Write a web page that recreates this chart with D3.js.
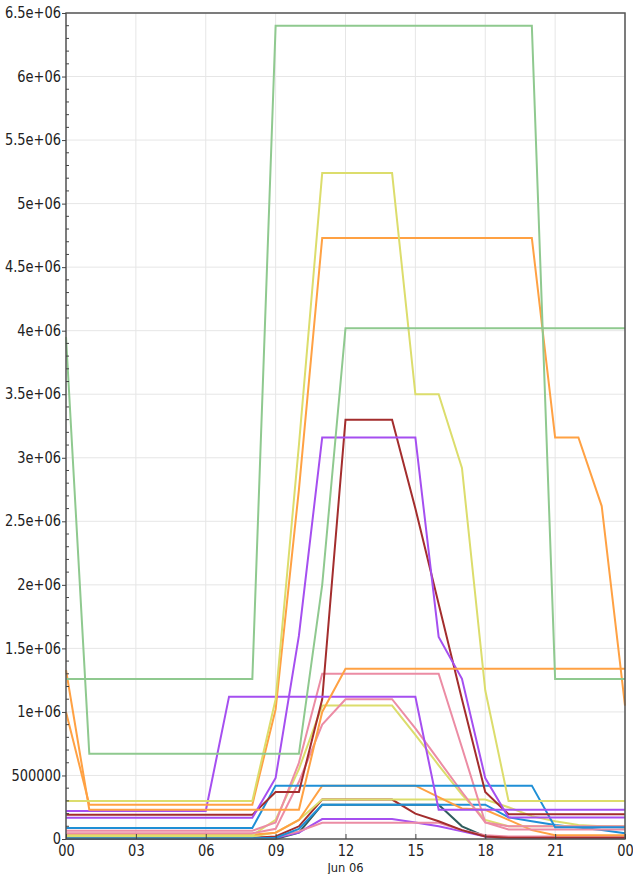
<!DOCTYPE html>
<html>
<head>
<meta charset="utf-8">
<script src="https://cdn.jsdelivr.net/npm/d3@7/dist/d3.min.js"></script>
<style>
  html, body { margin: 0; padding: 0; background: #fff; }
  svg { display: block; }
  text { font-family: "DejaVu Sans", sans-serif; fill: #222; }
</style>
</head>
<body>
<svg id="chart" width="633" height="874"></svg>
<script>
// Hourly readings for Jun 06 (hour 24 is midnight of the next day)
const hours = [0,1,2,3,4,5,6,7,8,9,10,11,12,13,14,15,16,17,18,19,20,21,22,23,24];

const greenA  = [1260000,1260000,1260000,1260000,1260000,1260000,1260000,1260000,1260000,6400000,6400000,6400000,6400000,6400000,6400000,6400000,6400000,6400000,6400000,6400000,6400000,1260000,1260000,1260000,1260000];
const greenB  = [3950000,670000,670000,670000,670000,670000,670000,670000,670000,670000,670000,2000000,4020000,4020000,4020000,4020000,4020000,4020000,4020000,4020000,4020000,4020000,4020000,4020000,4020000];
const yellowA = [300000,300000,300000,300000,300000,300000,300000,300000,300000,1100000,3100000,5240000,5240000,5240000,5240000,3500000,3500000,2920000,1170000,300000,300000,300000,300000,300000,300000];
const orangeA = [1000000,270000,270000,270000,270000,270000,270000,270000,270000,1020000,2750000,4730000,4730000,4730000,4730000,4730000,4730000,4730000,4730000,4730000,4730000,3160000,3160000,2620000,1050000];
const orangeB = [1330000,230000,230000,230000,230000,230000,230000,230000,230000,230000,230000,1000000,1340000,1340000,1340000,1340000,1340000,1340000,1340000,1340000,1340000,1340000,1340000,1340000,1340000];
const purpleA = [220000,220000,220000,220000,220000,220000,220000,1120000,1120000,1120000,1120000,1120000,1120000,1120000,1120000,1120000,230000,230000,230000,230000,230000,230000,230000,230000,230000];
const purpleB = [167000,167000,167000,167000,167000,167000,167000,167000,167000,480000,1600000,3160000,3160000,3160000,3160000,3160000,1590000,1260000,480000,170000,170000,170000,170000,170000,170000];
const redA    = [190000,190000,190000,190000,190000,190000,190000,190000,190000,370000,370000,1100000,3300000,3300000,3300000,2600000,1850000,1100000,370000,195000,195000,195000,195000,195000,195000];
const blueA   = [87000,87000,87000,87000,87000,87000,87000,87000,87000,420000,420000,420000,420000,420000,420000,420000,420000,420000,420000,420000,420000,92000,92000,92000,92000];
const pinkA   = [65000,65000,65000,65000,65000,65000,65000,65000,65000,130000,600000,1300000,1300000,1300000,1300000,1300000,1300000,720000,130000,100000,100000,100000,100000,100000,100000];
const pinkB   = [45000,45000,45000,45000,45000,45000,45000,45000,45000,80000,450000,900000,1100000,1100000,1100000,870000,620000,370000,130000,75000,75000,75000,75000,75000,75000];
const yellowB = [30000,30000,30000,30000,30000,30000,30000,30000,30000,150000,550000,1050000,1050000,1050000,1050000,820000,580000,350000,150000,100000,100000,100000,100000,100000,100000];
const orangeC = [35000,35000,35000,35000,35000,35000,35000,35000,35000,50000,150000,420000,420000,420000,420000,420000,330000,240000,230000,150000,70000,30000,30000,30000,30000];
const blueB   = [5000,5000,5000,5000,5000,5000,5000,5000,5000,10000,80000,270000,270000,270000,270000,270000,270000,270000,270000,170000,140000,110000,90000,70000,45000];
const yellowC = [20000,20000,20000,20000,20000,20000,20000,20000,20000,50000,150000,310000,310000,310000,310000,310000,310000,310000,310000,250000,180000,140000,110000,100000,90000];
const redB    = [10000,10000,10000,10000,10000,10000,10000,10000,10000,20000,100000,310000,310000,310000,310000,200000,140000,70000,20000,10000,10000,10000,10000,10000,10000];
const purpleC = [5000,5000,5000,5000,5000,5000,5000,5000,5000,10000,50000,157000,157000,157000,157000,130000,100000,60000,20000,10000,10000,10000,10000,10000,10000];
const pinkC   = [10000,10000,10000,10000,10000,10000,10000,10000,10000,15000,60000,128000,128000,128000,128000,128000,128000,70000,30000,20000,20000,20000,20000,20000,20000];
const tealA   = [0,0,0,0,0,0,0,0,0,0,50000,270000,270000,270000,270000,270000,270000,100000,20000,5000,5000,5000,5000,5000,5000];

const yTicks = [0,500000,1000000,1500000,2000000,2500000,3000000,3500000,4000000,4500000,5000000,5500000,6000000,6500000];
const xTickHours = [0,3,6,9,12,15,18,21,24];
const dateLabel = "Jun 06";

const palette = {
  green: "#8fc98f", yellow: "#dcdd6c", orange: "#ffa143", purple: "#a54ff0",
  red: "#a32d2d", blue: "#1f8fd6", pink: "#ec8ca4", teal: "#2f5d5d"
};

const series = [
  { values: tealA,   color: palette.teal },
  { values: purpleC, color: palette.purple },
  { values: pinkC,   color: palette.pink },
  { values: redB,    color: palette.red },
  { values: yellowC, color: palette.yellow },
  { values: blueB,   color: palette.blue },
  { values: orangeC, color: palette.orange },
  { values: yellowB, color: palette.yellow },
  { values: pinkB,   color: palette.pink },
  { values: pinkA,   color: palette.pink },
  { values: blueA,   color: palette.blue },
  { values: redA,    color: palette.red },
  { values: purpleB, color: palette.purple },
  { values: purpleA, color: palette.purple },
  { values: orangeB, color: palette.orange },
  { values: orangeA, color: palette.orange },
  { values: yellowA, color: palette.yellow },
  { values: greenB,  color: palette.green },
  { values: greenA,  color: palette.green }
];

const margin = { top: 13, right: 8, bottom: 35, left: 66 };
const W = 633, H = 874;
const iw = W - margin.left - margin.right;
const ih = H - margin.top - margin.bottom;
const STRETCH = 1.2; // labels use a tall, narrow glyph shape

const day = Date.UTC(2023, 5, 6);
const toDate = h => new Date(day + h * 3600000);

const x = d3.scaleUtc().domain([toDate(0), toDate(24)]).range([0, iw]);
const y = d3.scaleLinear().domain([0, 6500000]).range([ih, 0]);

const svg = d3.select("#chart");
const g = svg.append("g").attr("transform", `translate(${margin.left},${margin.top})`);

// grid
g.append("g").selectAll("line").data(xTickHours).join("line")
  .attr("x1", d => x(toDate(d))).attr("x2", d => x(toDate(d)))
  .attr("y1", 0).attr("y2", ih)
  .attr("stroke", "#e6e6e6").attr("stroke-width", 1);
g.append("g").selectAll("line").data(yTicks).join("line")
  .attr("x1", 0).attr("x2", iw)
  .attr("y1", d => y(d)).attr("y2", d => y(d))
  .attr("stroke", "#e6e6e6").attr("stroke-width", 1);

// series
const line = d3.line()
  .x((d, i) => x(toDate(hours[i])))
  .y(d => y(d));

g.append("g").selectAll("path").data(series).join("path")
  .attr("d", s => line(s.values))
  .attr("fill", "none")
  .attr("stroke", s => s.color)
  .attr("stroke-width", 2)
  .attr("stroke-linejoin", "miter");

// frame
g.append("rect").attr("x", 0).attr("y", 0).attr("width", iw).attr("height", ih)
  .attr("fill", "none").attr("stroke", "#555").attr("stroke-width", 1.5);

// y axis: major ticks outward, minor ticks inward
const yFmt = v => v === 0 ? "0" : (v < 1000000 ? String(v) : (v / 1000000) + "e+06");
const yAxis = d3.axisLeft(y).tickValues(yTicks).tickFormat(yFmt).tickSize(4).tickPadding(1);
const ya = g.append("g").call(yAxis);
ya.select(".domain").remove();
ya.selectAll("text")
  .style("font-size", "13px").attr("fill", "#222")
  .attr("dy", "0.3em")
  .attr("transform", `scale(1,${STRETCH})`);
ya.selectAll(".tick line").attr("stroke", "#444");

const minor = d3.range(0, 6500001, 100000).filter(v => v % 500000 !== 0);
g.append("g").selectAll("line").data(minor).join("line")
  .attr("x1", 0).attr("x2", 3)
  .attr("y1", d => y(d)).attr("y2", d => y(d))
  .attr("stroke", "#444").attr("stroke-width", 1);

// x axis: ticks inward
const xAxis = d3.axisBottom(x)
  .tickValues(xTickHours.map(toDate))
  .tickFormat(d3.utcFormat("%H"))
  .tickSize(-5);
const xa = g.append("g").attr("transform", `translate(0,${ih})`).call(xAxis);
xa.select(".domain").remove();
xa.selectAll("text")
  .style("font-size", "13px").attr("fill", "#222")
  .attr("y", 17 / STRETCH).attr("dy", 0)
  .attr("transform", `scale(1,${STRETCH})`);
xa.selectAll(".tick line").attr("stroke", "#444");

g.append("text")
  .attr("transform", `translate(${x(toDate(12))},${ih + 33}) scale(1,1.1)`)
  .attr("text-anchor", "middle")
  .style("font-size", "11.5px")
  .text(dateLabel);
</script>
</body>
</html>
